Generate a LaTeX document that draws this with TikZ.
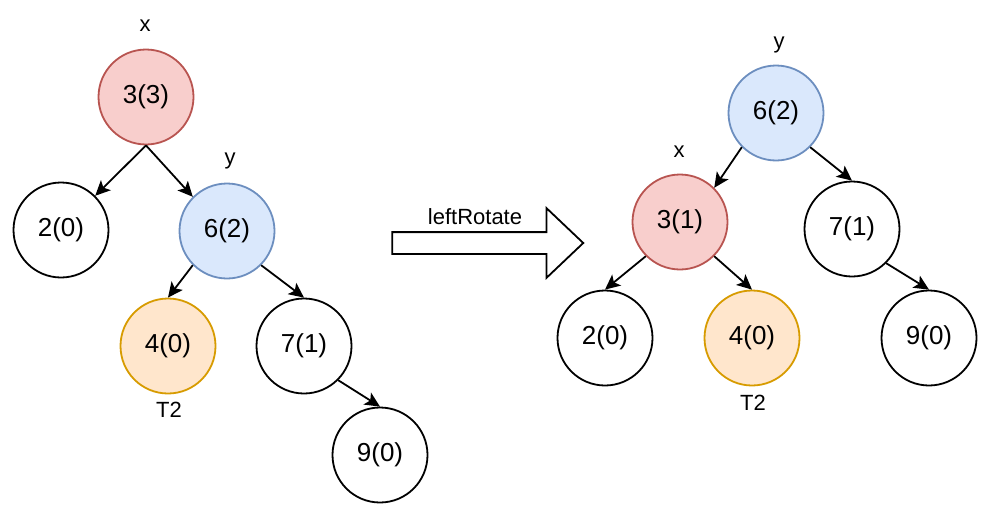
\documentclass[tikz,border=0pt]{standalone}
\usepackage{fontspec}
\setmainfont{Liberation Sans}
\usetikzlibrary{arrows.meta, shapes.arrows}
\definecolor{RotRed}{HTML}{F8CECC}
\definecolor{RotRedLine}{HTML}{B85450}
\definecolor{RotBlue}{HTML}{DAE8FC}
\definecolor{RotBlueLine}{HTML}{6C8EBF}
\definecolor{SubOrange}{HTML}{FFE6CC}
\definecolor{SubOrangeLine}{HTML}{D79B00}

\begin{document}
\begin{tikzpicture}[
      x=1pt, y=-1pt,
      key/.style={circle, draw, line width=1.8pt, minimum size=95pt, inner sep=0pt, fill=white, font=\fontsize{26}{30}\selectfont},
      xnode/.style={key, fill=RotRed, draw=RotRedLine},
      ynode/.style={key, fill=RotBlue, draw=RotBlueLine},
      subtree/.style={key, fill=SubOrange, draw=SubOrangeLine},
      tag/.style={anchor=base, inner sep=0pt, font=\fontsize{22}{26}\selectfont},
      link/.style={line width=1.8pt, -{Stealth[length=15pt, width=14pt, inset=3.5pt]}}
  ]
    \useasboundingbox (0,0) rectangle (995,530);

    % tree before the rotation
    \node[xnode](L3) at (146,97){3(3)};
    \node[key](L2) at (61,230){2(0)};
    \node[ynode](L6) at (227,231){6(2)};
    \node[subtree](L4) at (168,346){4(0)};
    \node[key](L7) at (304,346){7(1)};
    \node[key](L9) at (380,455){9(0)};
    \node[tag](Lx) at (145,31){x};
    \node[tag](Ly) at (230,164){y};
    \node[tag](Lt) at (169,417){T2};

    \draw[link] (L3.south) -- (L2.45);
    \draw[link] (L3.south) -- (L6.135);
    \draw[link] (L6.225) -- (L4.north);
    \draw[link] (L6.315) -- (L7.north);
    \draw[link] (L7.315) -- (L9.north);

    % rotation arrow
    \node[single arrow, draw, line width=1.8pt, fill=white, inner sep=0pt, inner ysep=10pt,
          minimum height=191pt, single arrow head extend=24pt, single arrow tip angle=87](rot) at (482,243){};
    \node[tag](rotText) at (475,224){leftRotate};

    % tree after the rotation
    \node[ynode](R6) at (776,113){6(2)};
    \node[xnode](R3) at (680,222){3(1)};
    \node[key](R7) at (852,229){7(1)};
    \node[key](R2) at (605,338){2(0)};
    \node[subtree](R4) at (752,338){4(0)};
    \node[key](R9) at (929,338){9(0)};
    \node[tag](Ry) at (779,48){y};
    \node[tag](Rx) at (679,157){x};
    \node[tag](Rt) at (753,410){T2};

    \draw[link] (R6.225) -- (R3.45);
    \draw[link] (R6.315) -- (R7.north);
    \draw[link] (R3.225) -- (R2.north);
    \draw[link] (R3.315) -- (R4.north);
    \draw[link] (R7.315) -- (R9.north);
\end{tikzpicture}
\end{document}
